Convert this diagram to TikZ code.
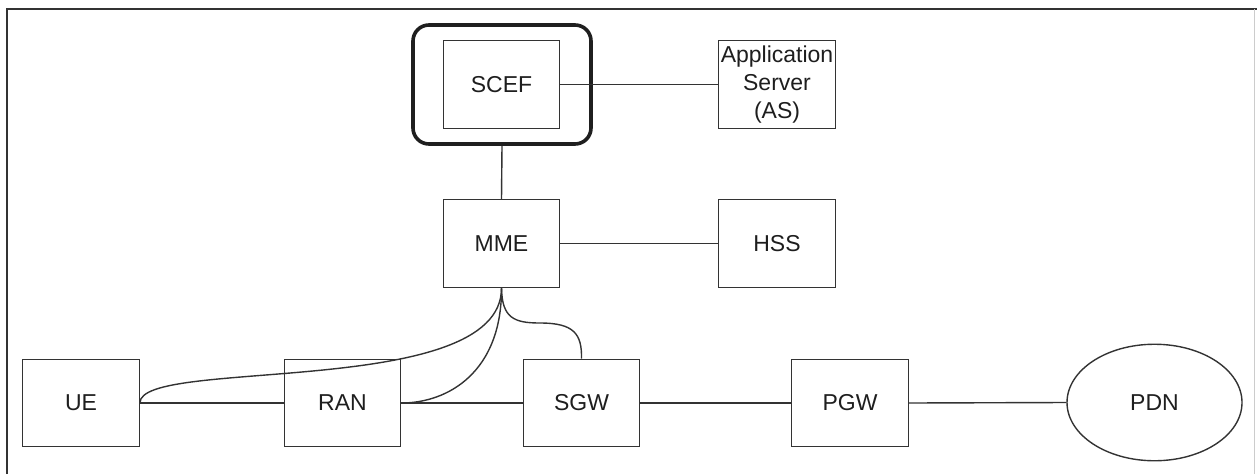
\documentclass[tikz,border=0pt]{standalone}
\usepackage{fontspec}
\setmainfont{Liberation Sans}
\usetikzlibrary{shapes.geometric}
\definecolor{ln}{HTML}{333333}
\definecolor{tx}{HTML}{1E1E1E}
\begin{document}
\begin{tikzpicture}[x=1pt,y=-1pt,
  nbox/.style={draw=ln, line width=1.4pt, rectangle, minimum width=116.5pt, minimum height=87.5pt, inner sep=0pt,
    text=tx, font=\fontsize{23}{28}\selectfont, align=center},
  nell/.style={draw=ln, line width=1.4pt, ellipse, minimum width=175pt, minimum height=116.5pt, inner sep=0pt,
    text=tx, font=\fontsize{23}{28}\selectfont},
  wrap/.style={draw=black!88, line width=3.6pt, rectangle, rounded corners=16pt, minimum width=178pt, minimum height=119pt, inner sep=0pt},
  conn/.style={draw=ln, line width=1.4pt}]
\useasboundingbox (0,0) rectangle (1257,474);
% frame
\draw[ln, line width=2pt] (7.3,474) -- (7.3,9.3) -- (1257,9.3);
\draw[black!20, line width=1.2pt] (1254.5,9.3) -- (1254.5,474);
% nodes
\node[wrap] (wrapbox) at (502,84.5) {};
\node[nbox] (scef) at (501.5,84.5) {SCEF};
\node[nbox] (as) at (777,84.5) {Application\\Server\\(AS)};
\node[nbox] (mme) at (501.5,243.5) {MME};
\node[nbox] (hss) at (777,243.5) {HSS};
\node[nbox] (ue) at (81,403) {UE};
\node[nbox] (ran) at (342.5,403) {RAN};
\node[nbox] (sgw) at (581.5,403) {SGW};
\node[nbox] (pgw) at (850,403) {PGW};
\node[nell] (pdn) at (1154.5,402.5) {PDN};
% connectors
\draw[conn] (scef.east) -- (as.west);
\draw[conn] (wrapbox.south) -- (mme.north);
\draw[conn] (mme.east) -- (hss.west);
\draw[conn] (ue.east) -- (ran.west);
\draw[conn] (ran.east) -- (sgw.west);
\draw[conn] (sgw.east) -- (pgw.west);
\draw[conn] (pgw.east) -- (pdn.west);
\draw[conn] (mme.south) .. controls (502,400) and (139,357) .. (ue.east);
\draw[conn] (mme.south) .. controls (502,372) and (448,403) .. (ran.east);
\coordinate (bend) at (540,323);
\draw[conn] (mme.south) .. controls (502,318) and (514,323) .. (bend)
  .. controls (574,323) and (582,334) .. (sgw.north);
\end{tikzpicture}
\end{document}
